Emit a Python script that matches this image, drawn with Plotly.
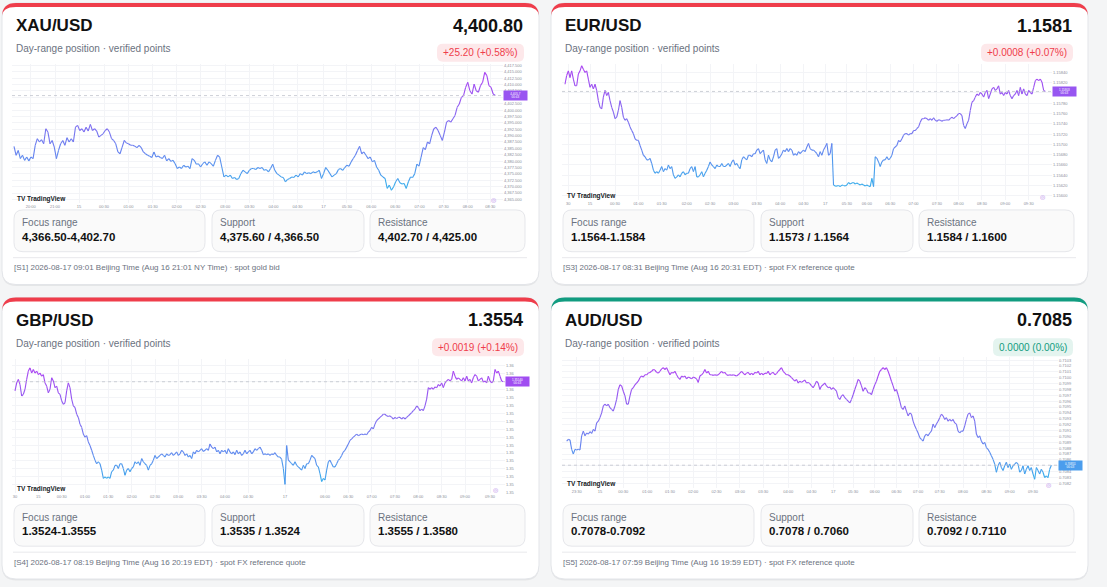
import plotly.graph_objects as go

W, H = 1107, 587
FONT = "Liberation Sans, Arial, sans-serif"

# ---------------- card data ----------------
pairs = ["XAU/USD", "EUR/USD", "GBP/USD", "AUD/USD"]
last_prices = ["4,400.80", "1.1581", "1.3554", "0.7085"]
changes = ["+25.20 (+0.58%)", "+0.0008 (+0.07%)", "+0.0019 (+0.14%)", "0.0000 (0.00%)"]
directions = ["up", "up", "up", "flat"]
focus_ranges = ["4,366.50-4,402.70", "1.1564-1.1584", "1.3524-1.3555", "0.7078-0.7092"]
supports = ["4,375.60 / 4,366.50", "1.1573 / 1.1564", "1.3535 / 1.3524", "0.7078 / 0.7060"]
resistances = ["4,402.70 / 4,425.00", "1.1584 / 1.1600", "1.3555 / 1.3580", "0.7092 / 0.7110"]
footnotes = [
    "[S1] 2026-08-17 09:01 Beijing Time (Aug 16 21:01 NY Time) · spot gold bid",
    "[S3] 2026-08-17 08:31 Beijing Time (Aug 16 20:31 EDT) · spot FX reference quote",
    "[S4] 2026-08-17 08:19 Beijing Time (Aug 16 20:19 EDT) · spot FX reference quote",
    "[S5] 2026-08-17 07:59 Beijing Time (Aug 16 19:59 EDT) · spot FX reference quote",
]

# ---------------- intraday series ----------------
xau_prices = [
    4385.8, 4382.3, 4384.2, 4381.0, 4382.3, 4380.3, 4381.6, 4380.1, 4381.6, 4381.0,
    4386.2, 4388.8, 4387.5, 4388.4, 4386.8, 4392.7, 4391.4, 4386.8, 4388.1, 4385.5,
    4381.0, 4384.2, 4386.8, 4388.1, 4386.2, 4389.2, 4387.5, 4388.8, 4387.5, 4393.3,
    4394.0, 4392.0, 4392.7, 4391.4, 4393.3, 4391.8, 4394.4, 4392.0, 4392.7, 4391.8,
    4389.4, 4390.1, 4390.7, 4392.0, 4392.7, 4391.4, 4388.8, 4388.1, 4386.8, 4383.6,
    4382.9, 4385.5, 4388.1, 4387.1, 4386.8, 4386.2, 4386.2, 4385.8, 4385.3, 4386.2,
    4385.3, 4383.6, 4382.9, 4382.3, 4381.9, 4381.4, 4383.6, 4381.6, 4382.0, 4381.4,
    4381.0, 4382.3, 4380.1, 4381.0, 4379.9, 4380.3, 4379.0, 4377.1, 4377.7, 4377.1,
    4378.4, 4377.7, 4378.0, 4377.1, 4381.0, 4380.3, 4378.8, 4379.0, 4377.7, 4379.0,
    4379.7, 4378.4, 4379.7, 4379.0, 4378.0, 4380.3, 4382.3, 4381.6, 4377.7, 4373.8,
    4374.5, 4373.8, 4374.5, 4373.2, 4373.6, 4372.8, 4373.2, 4375.1, 4376.4, 4375.8,
    4375.1, 4376.4, 4377.1, 4377.1, 4376.7, 4377.5, 4377.1, 4377.5, 4376.4, 4376.7,
    4375.8, 4377.1, 4378.8, 4376.4, 4375.1, 4374.5, 4373.8, 4373.6, 4371.9, 4372.8,
    4373.2, 4373.8, 4373.6, 4374.5, 4373.8, 4375.1, 4374.5, 4375.8, 4375.1, 4375.4,
    4375.1, 4375.8, 4375.4, 4375.8, 4376.4, 4373.2, 4375.1, 4377.5, 4376.4, 4375.1,
    4373.8, 4374.5, 4375.1, 4376.7, 4377.1, 4376.4, 4377.5, 4378.4, 4378.0, 4379.7,
    4381.0, 4382.3, 4384.2, 4385.8, 4382.9, 4383.6, 4382.3, 4381.0, 4381.6, 4379.7,
    4380.3, 4377.7, 4376.4, 4374.5, 4373.8, 4373.2, 4369.3, 4370.6, 4368.6, 4369.9,
    4371.9, 4373.2, 4371.5, 4371.0, 4371.2, 4369.3, 4371.9, 4373.8, 4373.6, 4375.1,
    4378.8, 4378.0, 4381.6, 4385.3, 4384.5, 4387.5, 4386.8, 4390.1, 4392.7, 4393.3,
    4392.0, 4390.1, 4388.1, 4391.4, 4395.3, 4395.9, 4395.3, 4396.6, 4397.9, 4401.1,
    4402.4, 4405.0, 4405.7, 4408.9, 4410.9, 4407.6, 4406.3, 4410.2, 4407.6, 4407.0,
    4409.6, 4410.9, 4414.8, 4413.5, 4409.6, 4408.9, 4406.3, 4405.7,
]

eur_prices = [
    1.15817, 1.15834, 1.15843, 1.15830, 1.15843, 1.15827, 1.15814, 1.15814, 1.15837, 1.15843,
    1.15853, 1.15846, 1.15840, 1.15843, 1.15827, 1.15811, 1.15817, 1.15808, 1.15817, 1.15805,
    1.15785, 1.15772, 1.15769, 1.15792, 1.15805, 1.15795, 1.15801, 1.15785, 1.15772, 1.15763,
    1.15750, 1.15753, 1.15766, 1.15785, 1.15772, 1.15753, 1.15747, 1.15750, 1.15743, 1.15734,
    1.15727, 1.15721, 1.15711, 1.15708, 1.15708, 1.15698, 1.15689, 1.15679, 1.15676, 1.15670,
    1.15670, 1.15673, 1.15663, 1.15650, 1.15644, 1.15647, 1.15644, 1.15650, 1.15657, 1.15647,
    1.15653, 1.15650, 1.15660, 1.15653, 1.15657, 1.15641, 1.15634, 1.15637, 1.15641, 1.15637,
    1.15644, 1.15647, 1.15641, 1.15644, 1.15644, 1.15653, 1.15657, 1.15647, 1.15657, 1.15637,
    1.15637, 1.15641, 1.15647, 1.15637, 1.15644, 1.15650, 1.15657, 1.15666, 1.15660, 1.15657,
    1.15653, 1.15660, 1.15657, 1.15657, 1.15663, 1.15657, 1.15657, 1.15660, 1.15663, 1.15657,
    1.15666, 1.15670, 1.15660, 1.15663, 1.15657, 1.15653, 1.15670, 1.15676, 1.15673, 1.15670,
    1.15679, 1.15679, 1.15676, 1.15682, 1.15682, 1.15689, 1.15692, 1.15682, 1.15686, 1.15689,
    1.15670, 1.15663, 1.15679, 1.15670, 1.15666, 1.15676, 1.15689, 1.15692, 1.15673, 1.15676,
    1.15682, 1.15689, 1.15686, 1.15692, 1.15686, 1.15692, 1.15689, 1.15679, 1.15682, 1.15679,
    1.15686, 1.15682, 1.15686, 1.15689, 1.15686, 1.15695, 1.15702, 1.15692, 1.15689, 1.15689,
    1.15686, 1.15682, 1.15676, 1.15686, 1.15679, 1.15689, 1.15695, 1.15702, 1.15679, 1.15682,
    1.15702, 1.15621, 1.15619, 1.15619, 1.15620, 1.15618, 1.15621, 1.15620, 1.15619, 1.15621,
    1.15626, 1.15623, 1.15625, 1.15626, 1.15623, 1.15625, 1.15623, 1.15621, 1.15623, 1.15621,
    1.15619, 1.15621, 1.15619, 1.15618, 1.15634, 1.15618, 1.15676, 1.15673, 1.15666, 1.15657,
    1.15666, 1.15670, 1.15670, 1.15676, 1.15670, 1.15673, 1.15679, 1.15692, 1.15695, 1.15698,
    1.15708, 1.15705, 1.15711, 1.15718, 1.15721, 1.15721, 1.15718, 1.15721, 1.15721, 1.15727,
    1.15727, 1.15731, 1.15734, 1.15743, 1.15750, 1.15750, 1.15752, 1.15750, 1.15747, 1.15750,
    1.15747, 1.15752, 1.15747, 1.15745, 1.15748, 1.15747, 1.15745, 1.15747, 1.15747, 1.15748,
    1.15747, 1.15750, 1.15753, 1.15750, 1.15753, 1.15756, 1.15760, 1.15760, 1.15756, 1.15737,
    1.15731, 1.15740, 1.15747, 1.15766, 1.15782, 1.15785, 1.15792, 1.15798, 1.15795, 1.15801,
    1.15798, 1.15792, 1.15801, 1.15805, 1.15789, 1.15798, 1.15808, 1.15811, 1.15805, 1.15808,
    1.15814, 1.15798, 1.15801, 1.15795, 1.15801, 1.15798, 1.15805, 1.15795, 1.15789, 1.15795,
    1.15798, 1.15805, 1.15795, 1.15811, 1.15798, 1.15808, 1.15798, 1.15795, 1.15805, 1.15801,
    1.15798, 1.15811, 1.15824, 1.15827, 1.15824, 1.15827, 1.15821, 1.15805, 1.15803,
]

gbp_prices = [
    1.35517, 1.35537, 1.35546, 1.35533, 1.35504, 1.35508, 1.35521, 1.35546, 1.35567, 1.35575,
    1.35562, 1.35571, 1.35562, 1.35567, 1.35558, 1.35562, 1.35554, 1.35558, 1.35537, 1.35529,
    1.35512, 1.35521, 1.35550, 1.35542, 1.35525, 1.35529, 1.35512, 1.35508, 1.35492, 1.35483,
    1.35487, 1.35517, 1.35537, 1.35525, 1.35496, 1.35479, 1.35475, 1.35458, 1.35450, 1.35433,
    1.35425, 1.35408, 1.35400, 1.35404, 1.35388, 1.35379, 1.35367, 1.35354, 1.35342, 1.35333,
    1.35338, 1.35333, 1.35317, 1.35296, 1.35300, 1.35296, 1.35300, 1.35296, 1.35313, 1.35317,
    1.35329, 1.35329, 1.35321, 1.35333, 1.35333, 1.35321, 1.35304, 1.35317, 1.35321, 1.35313,
    1.35321, 1.35325, 1.35338, 1.35333, 1.35338, 1.35329, 1.35346, 1.35338, 1.35333, 1.35329,
    1.35317, 1.35329, 1.35333, 1.35342, 1.35354, 1.35346, 1.35350, 1.35354, 1.35358, 1.35354,
    1.35350, 1.35358, 1.35354, 1.35356, 1.35361, 1.35354, 1.35358, 1.35363, 1.35354, 1.35358,
    1.35367, 1.35363, 1.35354, 1.35358, 1.35350, 1.35354, 1.35346, 1.35363, 1.35358, 1.35367,
    1.35363, 1.35367, 1.35371, 1.35364, 1.35367, 1.35371, 1.35367, 1.35383, 1.35375, 1.35371,
    1.35375, 1.35363, 1.35367, 1.35358, 1.35367, 1.35363, 1.35367, 1.35358, 1.35371, 1.35363,
    1.35358, 1.35363, 1.35356, 1.35367, 1.35358, 1.35363, 1.35354, 1.35358, 1.35367, 1.35358,
    1.35363, 1.35367, 1.35358, 1.35363, 1.35371, 1.35367, 1.35371, 1.35375, 1.35367, 1.35356,
    1.35358, 1.35356, 1.35358, 1.35354, 1.35358, 1.35356, 1.35361, 1.35354, 1.35350, 1.35350,
    1.35344, 1.35321, 1.35281, 1.35379, 1.35342, 1.35338, 1.35333, 1.35329, 1.35338, 1.35329,
    1.35325, 1.35321, 1.35317, 1.35329, 1.35321, 1.35333, 1.35333, 1.35342, 1.35354, 1.35350,
    1.35346, 1.35329, 1.35325, 1.35308, 1.35288, 1.35296, 1.35292, 1.35317, 1.35338, 1.35342,
    1.35333, 1.35325, 1.35325, 1.35333, 1.35342, 1.35346, 1.35354, 1.35363, 1.35367, 1.35375,
    1.35383, 1.35392, 1.35396, 1.35400, 1.35404, 1.35408, 1.35404, 1.35406, 1.35408, 1.35406,
    1.35408, 1.35406, 1.35413, 1.35417, 1.35425, 1.35421, 1.35433, 1.35442, 1.35446, 1.35450,
    1.35454, 1.35458, 1.35458, 1.35454, 1.35452, 1.35454, 1.35450, 1.35446, 1.35450, 1.35447,
    1.35450, 1.35450, 1.35446, 1.35450, 1.35446, 1.35450, 1.35454, 1.35458, 1.35462, 1.35467,
    1.35471, 1.35479, 1.35475, 1.35467, 1.35471, 1.35467, 1.35479, 1.35496, 1.35525, 1.35521,
    1.35525, 1.35521, 1.35527, 1.35525, 1.35533, 1.35529, 1.35537, 1.35525, 1.35537, 1.35542,
    1.35546, 1.35542, 1.35546, 1.35567, 1.35554, 1.35546, 1.35550, 1.35546, 1.35542, 1.35550,
    1.35542, 1.35554, 1.35542, 1.35546, 1.35537, 1.35550, 1.35558, 1.35554, 1.35542, 1.35546,
    1.35550, 1.35539, 1.35542, 1.35537, 1.35554, 1.35542, 1.35537, 1.35542, 1.35571, 1.35562,
    1.35567, 1.35554, 1.35542, 1.35540,
]

aud_prices = [
    0.70892, 0.70895, 0.70894, 0.70878, 0.70870, 0.70878, 0.70877, 0.70878, 0.70877, 0.70901,
    0.70909, 0.70901, 0.70906, 0.70904, 0.70908, 0.70905, 0.70912, 0.70909, 0.70923, 0.70926,
    0.70932, 0.70940, 0.70952, 0.70955, 0.70952, 0.70955, 0.70949, 0.70946, 0.70943, 0.70952,
    0.70963, 0.70980, 0.70988, 0.70986, 0.70977, 0.70969, 0.70955, 0.70955, 0.70969, 0.70980,
    0.70983, 0.70988, 0.70991, 0.70994, 0.71000, 0.71003, 0.71001, 0.71005, 0.71005, 0.71008,
    0.71009, 0.71011, 0.71014, 0.71013, 0.71009, 0.71008, 0.71011, 0.71015, 0.71017, 0.71014,
    0.71017, 0.71011, 0.71005, 0.71009, 0.71008, 0.71011, 0.71005, 0.71000, 0.70997, 0.71003,
    0.71001, 0.71003, 0.70998, 0.71001, 0.71000, 0.70998, 0.71001, 0.71000, 0.70998, 0.70992,
    0.71003, 0.71005, 0.71008, 0.71014, 0.71008, 0.71011, 0.71005, 0.71005, 0.71004, 0.71005,
    0.71004, 0.71005, 0.71008, 0.71011, 0.71008, 0.71009, 0.71005, 0.71004, 0.71005, 0.71004,
    0.71005, 0.71004, 0.71003, 0.71005, 0.71008, 0.71011, 0.71008, 0.71005, 0.71008, 0.71009,
    0.71005, 0.71008, 0.71005, 0.71009, 0.71008, 0.71011, 0.71005, 0.71008, 0.71005, 0.71008,
    0.71007, 0.71011, 0.71005, 0.71008, 0.71009, 0.71005, 0.71007, 0.71011, 0.71014, 0.71017,
    0.71011, 0.71008, 0.71005, 0.71005, 0.71003, 0.71000, 0.70997, 0.70994, 0.70997, 0.70991,
    0.70994, 0.70992, 0.70994, 0.70996, 0.70991, 0.70992, 0.70990, 0.70986, 0.70983, 0.70988,
    0.70994, 0.70991, 0.70980, 0.70986, 0.70988, 0.70991, 0.70986, 0.70983, 0.70984, 0.70980,
    0.70983, 0.70980, 0.70977, 0.70966, 0.70963, 0.70969, 0.70971, 0.70966, 0.70963, 0.70960,
    0.70957, 0.70963, 0.70971, 0.70980, 0.70988, 0.70997, 0.70994, 0.70986, 0.70977, 0.70983,
    0.70980, 0.70974, 0.70974, 0.70971, 0.70980, 0.70988, 0.70994, 0.71003, 0.71011, 0.71014,
    0.71017, 0.71014, 0.71017, 0.71011, 0.71003, 0.70994, 0.70986, 0.70977, 0.70980, 0.70971,
    0.70960, 0.70949, 0.70946, 0.70952, 0.70943, 0.70935, 0.70940, 0.70938, 0.70926, 0.70918,
    0.70912, 0.70906, 0.70898, 0.70895, 0.70892, 0.70901, 0.70904, 0.70901, 0.70906, 0.70909,
    0.70921, 0.70915, 0.70921, 0.70926, 0.70932, 0.70938, 0.70935, 0.70929, 0.70932, 0.70926,
    0.70929, 0.70926, 0.70929, 0.70923, 0.70921, 0.70909, 0.70906, 0.70909, 0.70909, 0.70918,
    0.70929, 0.70938, 0.70940, 0.70932, 0.70935, 0.70926, 0.70904, 0.70898, 0.70901, 0.70892,
    0.70887, 0.70890, 0.70881, 0.70878, 0.70873, 0.70867, 0.70861, 0.70853, 0.70839, 0.70850,
    0.70856, 0.70847, 0.70842, 0.70850, 0.70856, 0.70847, 0.70853, 0.70844, 0.70850, 0.70853,
    0.70856, 0.70853, 0.70839, 0.70842, 0.70850, 0.70836, 0.70844, 0.70850, 0.70842, 0.70847,
    0.70836, 0.70827, 0.70847, 0.70842, 0.70836, 0.70844, 0.70839, 0.70830, 0.70833, 0.70830,
    0.70844, 0.70851,
]

xau_time_labels = ["20:00", "21:00", "15", "00:30", "01:00", "01:30", "02:00", "02:30", "03:00", "03:30",
                   "04:00", "04:30", "17", "05:30", "06:00", "06:30", "07:00", "07:30", "08:00", "08:30"]
eur_time_labels = ["30", "15", "00:30", "01:00", "01:30", "02:00", "02:30", "03:00", "03:30", "04:00", "04:30",
                   "17", "05:30", "06:00", "06:30", "07:00", "07:30", "08:00", "08:30", "09:00", "09:30"]
gbp_time_labels = ["30", "15", "00:30", "01:00", "01:30", "02:00", "02:30", "03:00", "03:30", "04:00", "04:30",
                   "17", "06:00", "06:30", "07:00", "07:30", "08:00", "08:30", "09:00", "09:30"]
aud_time_labels = ["23:30", "15", "00:30", "01:00", "01:30", "02:00", "02:30", "03:00", "03:30", "04:00", "04:30",
                   "17", "05:30", "06:00", "06:30", "07:00", "07:30", "08:00", "08:30", "09:00", "09:30"]

series = [xau_prices, eur_prices, gbp_prices, aud_prices]
time_labels = [xau_time_labels, eur_time_labels, gbp_time_labels, aud_time_labels]

# ---------------- layout (pixels) ----------------
CARD_W, CARD_H = 537, 283
card_origins = [(2, 2), (551, 2), (2, 298), (551, 298)]
badge_widths = [87, 92, 92, 80]
chart_boxes = [(12, 63, 503, 203), (562, 63, 1052, 200), (12, 360, 505, 495), (562, 358, 1058, 489)]
# snapshot scale: where the line starts/ends vs the plot edges, and tick spots (snapshot px)
line_span = [(12, 1455), (15, 1455), (15, 1480), (20, 1475)]
plot_span = [(6, 1478), (6, 1475), (6, 1485), (6, 1495)]
tick_px = [
    [62, 135, 207, 282, 355, 428, 500, 572, 645, 718, 790, 862, 940, 1010, 1083, 1155, 1228, 1300, 1372, 1440],
    [25, 90, 165, 235, 305, 380, 450, 520, 590, 660, 730, 795, 860, 920, 990, 1060, 1130, 1195, 1265, 1335, 1405],
    [15, 85, 155, 225, 295, 365, 435, 505, 575, 645, 715, 825, 945, 1015, 1085, 1155, 1225, 1295, 1365, 1440],
    [50, 120, 190, 262, 330, 400, 470, 540, 610, 685, 755, 820, 880, 945, 1010, 1075, 1140, 1210, 1280, 1350, 1420],
]
y_ranges = [(4363.6, 4418.2), (1.15592, 1.15857), (1.35258, 1.35597), (0.70813, 0.71035)]
y_ticks = [(4365, 2.5, ",.3f"), (1.156, 0.0002, ".5f"), (1.3526, 0.0002, ".2f"), (0.7082, 0.0001, ".4f")]
tag_fmt = [",.1f", ".5f", ".5f", ".5f"]

LOW_RGB = (52, 178, 236)
HIGH_RGB = (172, 66, 242)


def px(x):
    return x / W


def py(y):
    return 1 - y / H


def grad(t):
    t = max(0.0, min(1.0, t)) ** 0.8
    r, g, b = [round(lo + (hi - lo) * t) for lo, hi in zip(LOW_RGB, HIGH_RGB)]
    return f"rgb({r},{g},{b})"


def rounded_path(x0, y0, x1, y1, r):
    return (f"M {px(x0 + r)},{py(y0)} L {px(x1 - r)},{py(y0)} Q {px(x1)},{py(y0)} {px(x1)},{py(y0 + r)} "
            f"L {px(x1)},{py(y1 - r)} Q {px(x1)},{py(y1)} {px(x1 - r)},{py(y1)} "
            f"L {px(x0 + r)},{py(y1)} Q {px(x0)},{py(y1)} {px(x0)},{py(y1 - r)} "
            f"L {px(x0)},{py(y0 + r)} Q {px(x0)},{py(y0)} {px(x0 + r)},{py(y0)} Z")


def top_band_path(x0, y0, x1, r, t):
    return (f"M {px(x0)},{py(y0 + r)} Q {px(x0)},{py(y0)} {px(x0 + r)},{py(y0)} L {px(x1 - r)},{py(y0)} "
            f"Q {px(x1)},{py(y0)} {px(x1)},{py(y0 + r)} Q {px(x1)},{py(y0 + t)} {px(x1 - r)},{py(y0 + t)} "
            f"L {px(x0 + r)},{py(y0 + t)} Q {px(x0)},{py(y0 + t)} {px(x0)},{py(y0 + r)} Z")


def paper_path(path, fill, line=None):
    return dict(type="path", xref="paper", yref="paper", path=path, fillcolor=fill,
                line=line or dict(width=0), layer="below")


def add_text(fig, x, y, s, size, color, bold=False, xanchor="left"):
    fig.add_annotation(x=px(x), y=py(y), xref="paper", yref="paper", showarrow=False,
                       text=f"<b>{s}</b>" if bold else s, xanchor=xanchor, yanchor="middle",
                       font=dict(size=size, color=color, family=FONT))


fig = go.Figure()
shapes = []

for k in range(4):
    cx, cy = card_origins[k]
    accent = "#ef3d4b" if directions[k] == "up" else "#119c80"
    badge_bg = "#fde8ea" if directions[k] == "up" else "#e4f4ef"

    # card body, shadow and coloured top edge
    shapes.append(paper_path(rounded_path(cx, cy + 1.5, cx + CARD_W, cy + CARD_H + 1.5, 14), "rgba(0,0,0,0.06)"))
    shapes.append(paper_path(rounded_path(cx, cy, cx + CARD_W, cy + CARD_H, 14), "white",
                             dict(color="#e3e5e9", width=1)))
    shapes.append(paper_path(top_band_path(cx, cy, cx + CARD_W, 14, 4), accent))

    # header
    add_text(fig, cx + 12, cy + 23, pairs[k], 17, "#111111", bold=True)
    add_text(fig, cx + CARD_W - 14, cy + 23, last_prices[k], 18, "#111111", bold=True, xanchor="right")
    add_text(fig, cx + 12, cy + 46, "Day-range position · verified points", 10, "#6b7280")
    bx1 = cx + CARD_W - 15
    bx0 = bx1 - badge_widths[k]
    shapes.append(paper_path(rounded_path(bx0, cy + 41, bx1, cy + 59, 6), badge_bg))
    add_text(fig, (bx0 + bx1) / 2, cy + 50, changes[k], 10, accent, xanchor="center")

    # level boxes
    boxes = [(12, 203), (210, 362), (368, 523)]
    labels = ["Focus range", "Support", "Resistance"]
    values = [focus_ranges[k], supports[k], resistances[k]]
    for (b0, b1), lab, val in zip(boxes, labels, values):
        shapes.append(paper_path(rounded_path(cx + b0, cy + 208, cx + b1, cy + 250, 9), "#fafafa",
                                 dict(color="#e6e7eb", width=1)))
        add_text(fig, cx + b0 + 6, cy + 221, lab, 10, "#6b7280")
        add_text(fig, cx + b0 + 6, cy + 235, val, 11.5, "#111111", bold=True)

    shapes.append(dict(type="line", xref="paper", yref="paper", x0=px(cx + 11), x1=px(cx + 525),
                       y0=py(cy + 256), y1=py(cy + 256), line=dict(color="#e8e9ec", width=1), layer="below"))
    add_text(fig, cx + 10, cy + 266, footnotes[k], 8, "#6b7280")

    # ---- intraday chart ----
    prices = series[k]
    n = len(prices)
    xs = [i / (n - 1) for i in range(n)]
    lo, hi = min(prices), max(prices)
    xa = "x" if k == 0 else f"x{k + 1}"
    ya = "y" if k == 0 else f"y{k + 1}"
    n_bins = 16
    buckets = [([], []) for _ in range(n_bins)]
    for i in range(n - 1):
        t = ((prices[i] + prices[i + 1]) / 2 - lo) / (hi - lo)
        b = min(n_bins - 1, int(t * n_bins))
        buckets[b][0].extend([xs[i], xs[i + 1], None])
        buckets[b][1].extend([prices[i], prices[i + 1], None])
    for b, (bxs, bys) in enumerate(buckets):
        if bxs:
            fig.add_trace(go.Scatter(x=bxs, y=bys, mode="lines", xaxis=xa, yaxis=ya,
                                     line=dict(color=grad((b + 0.5) / n_bins), width=1.1),
                                     hoverinfo="skip", showlegend=False))

    x0, y0, x1, y1 = chart_boxes[k]
    l0, l1 = line_span[k]
    p0, p1 = plot_span[k]
    span = l1 - l0
    tick0, dtick, fmt = y_ticks[k]
    axis_suffix = "" if k == 0 else str(k + 1)
    fig.update_layout(**{
        f"xaxis{axis_suffix}": dict(
            domain=[px(x0), px(x1)], anchor=ya, range=[(p0 - l0) / span, (p1 - l0) / span],
            tickmode="array", tickvals=[(v - l0) / span for v in tick_px[k]], ticktext=time_labels[k],
            tickfont=dict(size=4, color="#8a8e99", family=FONT), showgrid=True, gridcolor="#f3f4f7",
            gridwidth=0.6, zeroline=False, showline=False, ticks="", fixedrange=True),
        f"yaxis{axis_suffix}": dict(
            domain=[py(y1), py(y0)], anchor=xa, range=list(y_ranges[k]), side="right",
            tickmode="linear", tick0=tick0, dtick=dtick, tickformat=fmt,
            tickfont=dict(size=4, color="#8a8e99", family=FONT), showgrid=True, gridcolor="#f3f4f7",
            gridwidth=0.6, zeroline=False, showline=False, ticks="", fixedrange=True),
    })

    # last price line and tag
    last = prices[-1]
    shapes.append(dict(type="line", xref=f"{xa} domain", yref=ya, x0=0, x1=1, y0=last, y1=last,
                       line=dict(color="#b8bcc6", width=0.7, dash="dot")))
    fig.add_annotation(xref=f"{xa} domain", x=1.0, yref=ya, y=last, showarrow=False,
                       xanchor="left", yanchor="middle", text=f"{last:{tag_fmt[k]}}<br>00:43",
                       bgcolor=grad((last - lo) / (hi - lo)), borderpad=0.5, width=22,
                       font=dict(size=3, color="white", family=FONT))

    # TradingView badge and small icon
    add_text(fig, x0 + 3, y1 - 4, "TV TradingView", 6.5, "#131722", bold=True)
    add_text(fig, x1 - 10, y1 - 3, "◎", 6, "#b27ee8", xanchor="center")

fig.update_layout(
    width=W, height=H,
    margin=dict(l=0, r=0, t=0, b=0),
    paper_bgcolor="#f4f5f6",
    plot_bgcolor="white",
    shapes=shapes,
    showlegend=False,
    font=dict(family=FONT),
)

# the page default body margin would offset the figure by 8px
fig.write_html("out.html", config={"displayModeBar": False},
               post_script="document.body.style.margin='0';document.body.style.overflow='hidden';"
                           "document.body.style.background='#f4f5f6';")
